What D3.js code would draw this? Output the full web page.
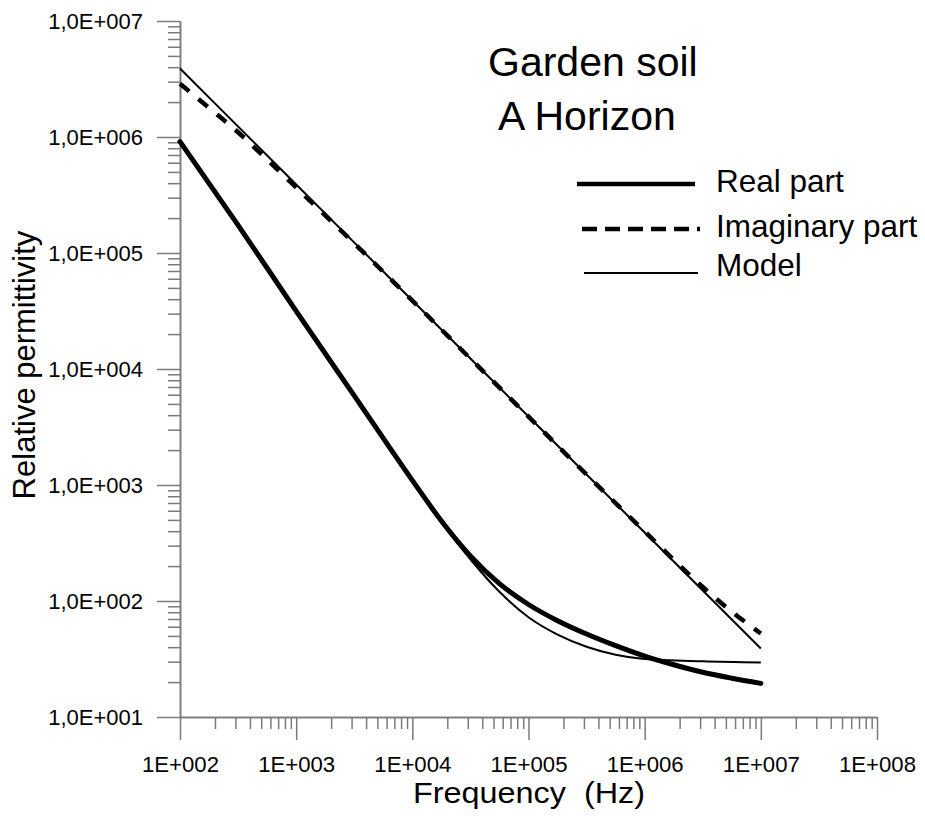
<!DOCTYPE html>
<html>
<head>
<meta charset="utf-8">
<script src="https://cdn.jsdelivr.net/npm/d3@7"></script>
<style>
  body { margin: 0; background: #fff; }
  text { font-family: "Liberation Sans", Arial, sans-serif; fill: #000; }
</style>
</head>
<body>
<div id="chart"></div>
<script>
// Frequencies (Hz) and values
const freqReal = [1e2, 3.16e2, 1e3, 3.16e3, 1e4, 1.78e4, 3.16e4, 5.62e4, 1e5, 1.78e5, 3.16e5, 5.62e5, 1e6, 1.78e6, 3.16e6, 5.62e6, 1e7];
const realPart = [912000, 174000, 31600, 5890, 1096, 490, 245, 141, 93.3, 67.6, 51.9, 41.2, 33.5, 28.2, 24.3, 21.6, 19.5];

const freqImag = [1e2, 1.78e2, 3.16e2, 5.62e2, 1e3, 3.16e3, 1e4, 3.16e4, 1e5, 3.16e5, 1e6, 3.16e6, 5.62e6, 1e7];
const imagPart = [2880000, 1780000, 1100000, 638000, 367000, 121000, 38900, 12300, 3890, 1230, 398, 132, 81, 52.5];

const freqModelReal = [1e2, 1e3, 1e4, 1.78e4, 3.16e4, 5.62e4, 1e5, 1.78e5, 3.16e5, 5.62e5, 1e6, 3.16e6, 1e7];
const modelReal = [912000, 31600, 1096, 479, 229, 120, 72.4, 51.3, 40.3, 34.4, 31.6, 30.2, 29.5];

const freqModelImag = [1e2, 1e3, 1e4, 1e5, 1e6, 1e7];
const modelImag = [3890000, 389000, 38900, 3890, 389, 38.9];

const xTicks = [1e2, 1e3, 1e4, 1e5, 1e6, 1e7, 1e8];
const yTicks = [1e1, 1e2, 1e3, 1e4, 1e5, 1e6, 1e7];

const legendNames = ["Real part", "Imaginary part", "Model"];

const w = 925, h = 816;
const plotLeft = 180, plotRight = 877, plotTop = 21, plotBottom = 717;

const svg = d3.select("#chart").append("svg")
    .attr("width", w)
    .attr("height", h);

const x = d3.scaleLog().domain([1e2, 1e8]).range([plotLeft, plotRight]);
const y = d3.scaleLog().domain([1e1, 1e7]).range([plotBottom, plotTop]);

// minor ticks 2..9 in each decade
const minorOf = ticks => {
    const out = [];
    ticks.slice(0, -1).forEach(t => { for (let k = 2; k <= 9; k++) out.push(t * k); });
    return out;
};

const expo = v => String(Math.round(Math.log10(v))).padStart(3, "0");
const axisColor = "#7a7a7a";

// x axis
const gx = svg.append("g").attr("transform", `translate(0,${plotBottom})`);
gx.append("g").call(d3.axisBottom(x).tickValues(minorOf(xTicks)).tickSize(12).tickSizeOuter(0).tickFormat(""));
gx.append("g").call(d3.axisBottom(x).tickValues(xTicks).tickSize(23).tickSizeOuter(0).tickPadding(16)
    .tickFormat(d => "1E+" + expo(d)));
gx.selectAll("text")
    .attr("font-size", 22)
    .attr("textLength", 77)
    .attr("lengthAdjust", "spacingAndGlyphs");

// y axis
const gy = svg.append("g").attr("transform", `translate(${plotLeft},0)`);
gy.append("g").call(d3.axisLeft(y).tickValues(minorOf(yTicks)).tickSize(12).tickSizeOuter(0).tickFormat(""));
gy.append("g").call(d3.axisLeft(y).tickValues(yTicks).tickSize(23).tickSizeOuter(0).tickPadding(14)
    .tickFormat(d => "1,0E+" + expo(d)));
gy.selectAll("text").attr("font-size", 22);

svg.selectAll(".domain, .tick line").attr("stroke", axisColor).attr("stroke-width", 1.5);
svg.selectAll(".tick text").attr("fill", "#000").style("font-family", '"Liberation Sans", Arial, sans-serif');

// axis titles
svg.append("text")
    .attr("x", 529).attr("y", 803)
    .attr("text-anchor", "middle")
    .attr("font-size", 29)
    .attr("textLength", 232)
    .attr("lengthAdjust", "spacingAndGlyphs")
    .style("white-space", "pre")
    .text("Frequency  (Hz)");

svg.append("text")
    .attr("transform", "translate(35,365) rotate(-90)")
    .attr("text-anchor", "middle")
    .attr("font-size", 31)
    .text("Relative permittivity");

// curves
const line = (fs, vs) => d3.line()
    .x((d, i) => x(fs[i]))
    .y(d => y(d))
    .curve(d3.curveMonotoneX)(vs);

svg.append("path").attr("d", line(freqModelImag, modelImag))
    .attr("fill", "none").attr("stroke", "#000").attr("stroke-width", 2);
svg.append("path").attr("d", line(freqImag, imagPart))
    .attr("fill", "none").attr("stroke", "#000").attr("stroke-width", 4.5)
    .attr("stroke-dasharray", "12,12");
svg.append("path").attr("d", line(freqModelReal, modelReal))
    .attr("fill", "none").attr("stroke", "#000").attr("stroke-width", 2);
svg.append("path").attr("d", line(freqReal, realPart))
    .attr("fill", "none").attr("stroke", "#000").attr("stroke-width", 5)
    .attr("stroke-linecap", "round");

// title
svg.append("text").attr("x", 488).attr("y", 76).attr("font-size", 41).text("Garden soil");
svg.append("text").attr("x", 498).attr("y", 130).attr("font-size", 41).text("A Horizon");

// legend
const legendStyle = [
    { x1: 577, x2: 695, y: 184, width: 4.5, dash: null },
    { x1: 582, x2: 700, y: 229, width: 4.5, dash: "15,8" },
    { x1: 584, x2: 698, y: 273, width: 2, dash: null }
];
const legendBase = [192, 237, 276];
legendNames.forEach((name, i) => {
    const s = legendStyle[i];
    svg.append("line")
        .attr("x1", s.x1).attr("x2", s.x2).attr("y1", s.y).attr("y2", s.y)
        .attr("stroke", "#000").attr("stroke-width", s.width)
        .attr("stroke-dasharray", s.dash);
    svg.append("text")
        .attr("x", 716).attr("y", legendBase[i])
        .attr("font-size", 31.5)
        .text(name);
});
</script>
</body>
</html>
